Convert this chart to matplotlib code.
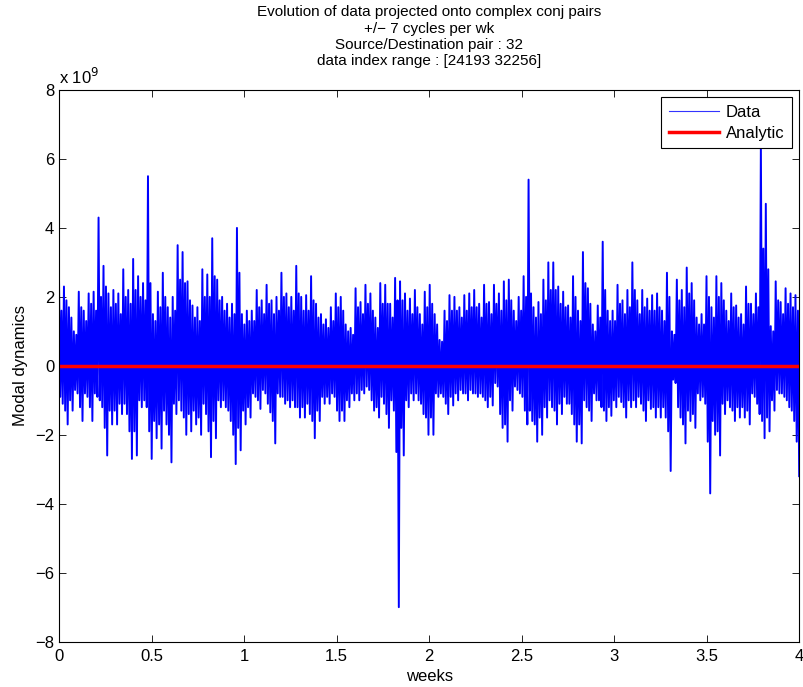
import numpy as np
import matplotlib
matplotlib.use('Agg')
import matplotlib.pyplot as plt
from matplotlib.ticker import FuncFormatter

plt.rcParams['font.family'] = ['Liberation Sans', 'DejaVu Sans']

# values, in units of 1e9, 150 short slices over 4 weeks
# largest up / down excursion per slice
peak_hi = [2.5, 2.3, 1.7, 1.0, 2.15, 1.6, 2.1, 2.15, 4.3, 2.9, 2.1, 2.2, 2.1, 2.8, 2.2, 3.1, 2.6, 2.4, 5.5, 1.5, 2.15, 2.7, 1.7, 2.0, 3.5,
           3.3, 2.45, 1.75, 1.7, 2.8, 2.65, 3.7, 2.5, 2.0, 1.8, 1.8, 4.0, 1.5, 1.6, 1.6, 2.2, 1.9, 2.35, 1.9, 2.0, 2.7, 2.1, 2.0, 2.9, 2.0,
           2.05, 2.6, 1.8, 1.5, 1.35, 1.7, 2.1, 2.0, 1.2, 1.1, 2.25, 1.85, 2.35, 2.1, 1.4, 2.4, 2.35, 1.8, 2.55, 2.45, 2.1, 1.95, 2.2, 1.5, 2.15,
           2.35, 1.5, 0.75, 1.6, 2.05, 2.0, 1.7, 2.05, 2.1, 2.2, 1.8, 2.35, 1.85, 2.35, 2.1, 2.45, 2.5, 1.6, 2.0, 2.6, 5.4, 1.7, 1.85, 2.5, 3.0,
           3.0, 2.3, 2.15, 1.75, 2.6, 1.6, 3.3, 2.25, 1.2, 1.75, 3.6, 1.6, 1.6, 2.35, 1.9, 2.2, 3.0, 1.9, 2.2, 1.95, 2.05, 2.1, 1.6, 2.7, 1.0,
           2.5, 2.2, 2.85, 2.4, 1.4, 1.5, 2.6, 1.7, 2.6, 2.4, 1.6, 2.1, 1.75, 1.5, 2.3, 1.8, 2.1, 6.4, 4.7, 1.15, 2.45, 1.85, 2.25, 2.1, 2.05]
peak_lo = [-1.1, -1.7, -1.3, -0.8, -1.6, -0.9, -1.6, -0.9, -1.2, -2.6, -1.7, -1.7, -1.4, -1.4, -2.7, -2.6, -1.2, -1.2, -2.7, -2.1, -2.4, -1.7, -2.8, -1.4, -1.3,
           -2.0, -1.9, -1.7, -2.0, -1.4, -2.65, -2.1, -1.2, -1.2, -1.6, -2.85, -2.45, -1.7, -1.5, -0.9, -1.25, -0.8, -1.35, -2.25, -0.9, -1.1, -1.2, -1.2, -1.5, -1.5,
           -1.4, -2.1, -1.6, -1.1, -1.1, -0.9, -1.6, -1.6, -1.2, -1.0, -1.0, -0.8, -0.7, -1.3, -1.5, -1.1, -1.8, -1.3, -7.0, -2.6, -1.2, -1.0, -1.0, -1.4, -2.0,
           -2.0, -0.9, -0.9, -1.4, -1.15, -1.0, -0.8, -1.0, -0.8, -0.9, -0.9, -1.2, -1.15, -0.6, -1.8, -2.2, -1.3, -0.7, -0.9, -1.7, -1.6, -2.2, -2.0, -1.5, -1.2,
           -1.7, -1.4, -1.1, -1.4, -2.2, -2.25, -1.2, -1.6, -1.0, -1.2, -1.6, -1.45, -1.2, -1.05, -1.5, -1.2, -1.2, -1.1, -1.6, -1.25, -1.5, -1.5, -1.5, -3.05, -0.5,
           -1.5, -2.25, -1.6, -1.8, -1.0, -1.1, -3.7, -2.0, -2.6, -1.4, -1.2, -1.6, -1.5, -1.5, -1.7, -0.9, -1.4, -2.1, -1.9, -1.3, -0.8, -0.9, -1.2, -1.6, -3.2]
# second largest excursion per slice
second_hi = [1.6, 1.9, 1.4, 0.9, 1.7, 1.3, 1.8, 1.6, 2.0, 2.3, 1.7, 1.8, 1.5, 2.0, 1.8, 2.2, 2.0, 1.9, 2.4, 1.3, 1.7, 2.0, 1.4, 1.6, 2.5,
             2.4, 1.9, 1.4, 1.3, 2.0, 2.0, 2.6, 1.9, 1.6, 1.4, 1.5, 2.7, 1.2, 1.3, 1.3, 1.7, 1.5, 1.8, 1.5, 1.6, 2.0, 1.7, 1.6, 2.1, 1.6,
             1.6, 1.9, 1.4, 1.2, 1.1, 1.3, 1.7, 1.6, 1.0, 0.9, 1.7, 1.5, 1.8, 1.6, 1.1, 1.8, 1.8, 1.4, 1.9, 1.9, 1.6, 1.5, 1.7, 1.2, 1.7,
             1.8, 1.2, 0.7, 1.3, 1.6, 1.6, 1.4, 1.6, 1.7, 1.7, 1.4, 1.8, 1.5, 1.8, 1.6, 1.9, 1.9, 1.3, 1.6, 2.0, 2.1, 1.4, 1.5, 1.9, 2.2,
             2.2, 1.8, 1.7, 1.4, 2.0, 1.3, 2.4, 1.8, 1.0, 1.4, 2.2, 1.3, 1.3, 1.8, 1.5, 1.7, 2.2, 1.5, 1.7, 1.6, 1.6, 1.7, 1.3, 2.0, 0.9,
             1.9, 1.7, 2.1, 1.9, 1.2, 1.2, 2.0, 1.4, 2.0, 1.9, 1.3, 1.7, 1.4, 1.2, 1.8, 1.5, 1.7, 3.4, 2.8, 1.0, 1.9, 1.5, 1.8, 1.7, 1.6]
second_lo = [-0.9, -1.3, -1.0, -0.7, -1.2, -0.8, -1.2, -0.8, -1.0, -1.8, -1.3, -1.3, -1.1, -1.1, -1.9, -1.9, -1.0, -1.0, -1.9, -1.6, -1.7, -1.3, -2.0, -1.1, -1.0,
             -1.5, -1.4, -1.3, -1.5, -1.1, -1.9, -1.6, -1.0, -1.0, -1.3, -2.0, -1.8, -1.3, -1.2, -0.8, -1.0, -0.7, -1.1, -1.6, -0.8, -0.9, -1.0, -1.0, -1.2, -1.2,
             -1.1, -1.6, -1.3, -0.9, -0.9, -0.8, -1.3, -1.3, -1.0, -0.8, -0.8, -0.7, -0.6, -1.0, -1.2, -0.9, -1.4, -1.0, -2.5, -1.8, -1.0, -0.8, -0.8, -1.1, -1.5,
             -1.5, -0.8, -0.8, -1.1, -0.9, -0.8, -0.7, -0.8, -0.7, -0.8, -0.8, -1.0, -0.9, -0.5, -1.4, -1.7, -1.0, -0.6, -0.8, -1.3, -1.3, -1.7, -1.5, -1.2, -1.0,
             -1.3, -1.1, -0.9, -1.1, -1.7, -1.7, -1.0, -1.3, -0.8, -1.0, -1.3, -1.2, -1.0, -0.9, -1.2, -1.0, -1.0, -0.9, -1.3, -1.0, -1.2, -1.2, -1.2, -1.9, -0.4,
             -1.2, -1.7, -1.3, -1.4, -0.8, -0.9, -2.2, -1.6, -1.9, -1.1, -1.0, -1.3, -1.2, -1.2, -1.3, -0.8, -1.1, -1.6, -1.5, -1.0, -0.7, -0.8, -1.0, -1.3, -2.2]
analytic = [0.0, 0.0]
week_span = [0, 4]

# build the trace: each slice swings through its two pairs of excursions
seq = np.column_stack([peak_hi, second_lo, second_hi, peak_lo])
data = seq.ravel() * 1e9
t = np.linspace(week_span[0], week_span[1], len(data))


def tick_text(v):
    return ('%g' % v).replace('-', '\u2212')


fig = plt.figure(figsize=(8.04, 6.87), dpi=100)
ax = fig.add_axes([0.0734, 0.066, 0.9206, 0.803])

ax.plot(t, data, color='#0000ff', lw=1.4, label='Data')
ax.plot(week_span, np.array(analytic) * 1e9, color='#ff0000', lw=2.5, label='Analytic')

ax.set_xlim(0, 4)
ax.set_ylim(-8e9, 8e9)
ax.set_xticks(np.arange(0, 4.01, 0.5))
ax.set_yticks(np.arange(-8, 8.01, 2) * 1e9)
ax.xaxis.set_major_formatter(FuncFormatter(lambda v, p: tick_text(v)))
ax.yaxis.set_major_formatter(FuncFormatter(lambda v, p: tick_text(v / 1e9)))
ax.tick_params(direction='in', top=True, right=True, length=5, labelsize=12, width=0.6)
ax.tick_params(axis='x', pad=5)
for s in ax.spines.values():
    s.set_linewidth(0.8)

ax.text(0, 1.01, 'x 10$^9$', transform=ax.transAxes, fontsize=12)
ax.set_xlabel('weeks', fontsize=12, labelpad=4)
ax.set_ylabel('Modal dynamics', fontsize=12, labelpad=5)
ax.set_title('Evolution of data projected onto complex conj pairs\n+/\u2212 7 cycles per wk\n'
             'Source/Destination pair : 32\ndata index range : [24193 32256]',
             fontsize=11, linespacing=1.2, pad=18)

leg = ax.legend(loc='upper right', fontsize=12, fancybox=False, framealpha=1,
                edgecolor='black', handlelength=3, handletextpad=0.4,
                borderaxespad=0.45, labelspacing=0.35, borderpad=0.45)
leg.get_frame().set_linewidth(0.8)
data_handle = leg.get_lines()[0]
data_handle.set_linewidth(0.8)
data_handle.set_color('#3333ff')

fig.savefig('out.png', dpi=100)
